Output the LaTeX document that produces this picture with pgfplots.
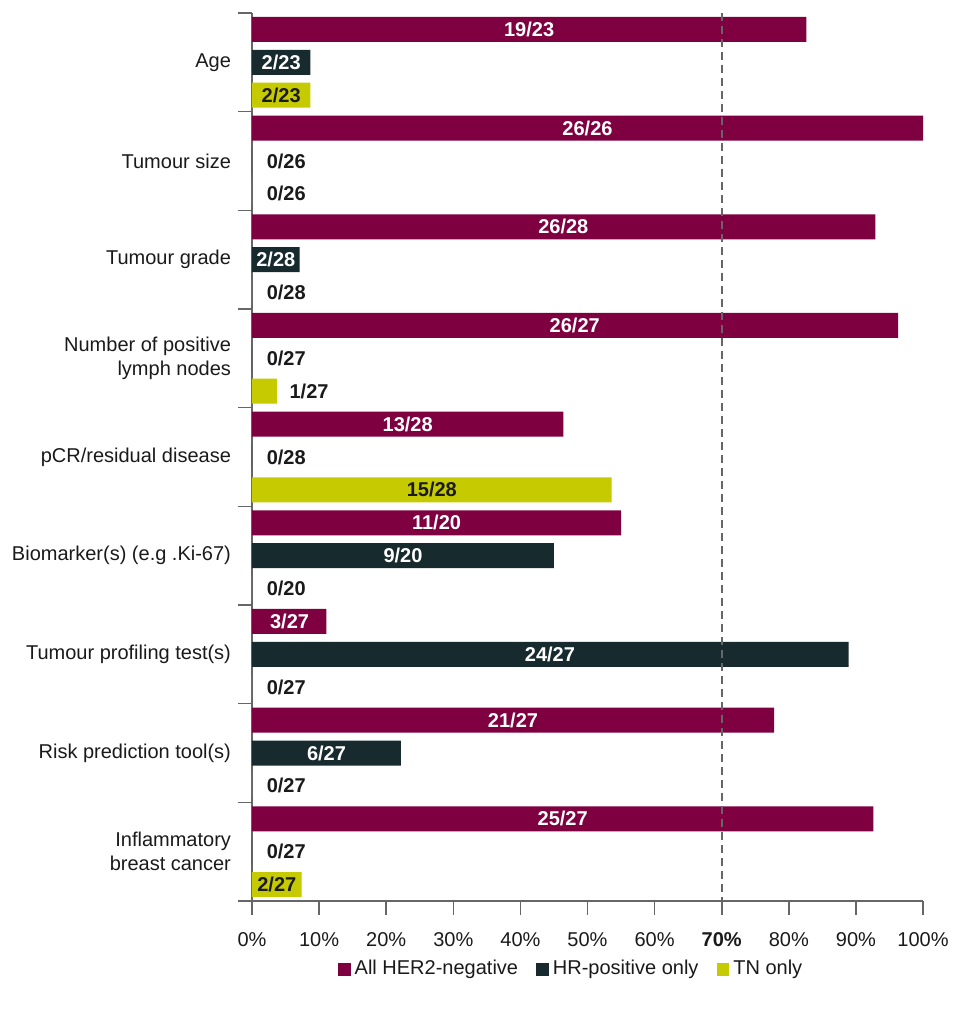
\documentclass[border=0pt]{standalone}
\usepackage{fontspec}
\setmainfont{Liberation Sans}
\usepackage{pgfplots}
\usepackage{pgfplotstable}
\pgfplotsset{compat=1.18}

\definecolor{hermag}{HTML}{7F0040}
\definecolor{hrdark}{HTML}{172A2D}
\definecolor{tnyel}{HTML}{C6CA00}
\definecolor{txtdark}{HTML}{1A1A1A}
\definecolor{axgray}{HTML}{666666}

% y = bar position (rows of 3 per category, top to bottom)
\pgfplotstableread{
y    v
0.5  82.6
3.5  100
6.5  92.9
9.5  96.3
12.5 46.4
15.5 55.0
18.5 11.1
21.5 77.8
24.5 92.6
}\allher

\pgfplotstableread{
y    v
1.5  8.7
4.5  0
7.5  7.1
10.5 0
13.5 0
16.5 45.0
19.5 88.9
22.5 22.2
25.5 0
}\hrpos

\pgfplotstableread{
y    v
2.5  8.7
5.5  0
8.5  0
11.5 3.7
14.5 53.6
17.5 0
20.5 0
23.5 0
26.5 7.4
}\tnonly

% labels inside the dark bars (white text)
\pgfplotstableread{
y    lx    lab
0.5  41.3  19/23
3.5  50.0  26/26
6.5  46.4  26/28
9.5  48.1  26/27
12.5 23.2  13/28
15.5 27.5  11/20
18.5 5.6   3/27
21.5 38.9  21/27
24.5 46.3  25/27
1.5  4.35  2/23
7.5  3.55  2/28
16.5 22.5  9/20
19.5 44.4  24/27
22.5 11.1  6/27
}\labwhite

% labels in yellow bars or beside empty bars (dark text)
\pgfplotstableread{
y    lx    lab
4.5  5.1   0/26
10.5 5.1   0/27
13.5 5.1   0/28
25.5 5.1   0/27
2.5  4.35  2/23
5.5  5.1   0/26
8.5  5.1   0/28
11.5 8.5   1/27
14.5 26.8  15/28
17.5 5.1   0/20
20.5 5.1   0/27
23.5 5.1   0/27
26.5 3.7   2/27
}\labdark

\begin{document}
\begin{tikzpicture}
\begin{axis}[
    scale only axis,
    width=335.5pt, height=444pt,
    font=\fontsize{10}{12}\selectfont,
    /pgf/number format/assume math mode=true,
    xmin=0, xmax=100, ymin=0, ymax=27,
    y dir=reverse,
    axis lines=left,
    axis line style={-, axgray, line width=0.8pt},
    tick style={axgray, line width=0.8pt},
    tick align=outside,
    major tick length=7pt,
    minor tick length=7pt,
    xtick={0,10,...,100},
    xticklabels={0\%,10\%,20\%,30\%,40\%,50\%,60\%,\textbf{70\%},80\%,90\%,100\%},
    xticklabel style={yshift=-5pt, text=txtdark},
    ytick={1.5,4.5,...,25.5},
    yticklabels={Age,Tumour size,Tumour grade,{Number of positive\\lymph nodes},pCR/residual disease,Biomarker(s) (e.g .Ki-67),Tumour profiling test(s),Risk prediction tool(s),{Inflammatory\\breast cancer}},
    yticklabel style={align=right, xshift=0pt, text=txtdark},
    major y tick style={draw=none},
    minor ytick={0,3,...,27},
    legend columns=-1,
    legend style={at={(0.477,-0.0767)}, anchor=center, draw=none,
        font=\fontsize{10}{12}\selectfont, text=txtdark,
        /tikz/every even column/.append style={column sep=7pt}},
    legend image code/.code={\path[#1, draw=none] (0pt,-3.2pt) rectangle (6.4pt,3.2pt);},
    clip=false,
]
\addplot[xbar, bar shift=0pt, bar width=0.76, fill=hermag, draw=none] table[x=v, y=y] {\allher};
\addplot[xbar, bar shift=0pt, bar width=0.76, fill=hrdark, draw=none] table[x=v, y=y] {\hrpos};
\addplot[xbar, bar shift=0pt, bar width=0.76, fill=tnyel, draw=none] table[x=v, y=y] {\tnonly};
\legend{All HER2-negative, HR-positive only, TN only}

\addplot[draw=none, mark=none, forget plot, point meta=explicit symbolic,
    nodes near coords={\bfseries\textcolor{white}{\pgfplotspointmeta}},
    nodes near coords align=center]
    table[x=lx, y=y, meta=lab] {\labwhite};
\addplot[draw=none, mark=none, forget plot, point meta=explicit symbolic,
    nodes near coords={\bfseries\textcolor{txtdark}{\pgfplotspointmeta}},
    nodes near coords align=center]
    table[x=lx, y=y, meta=lab] {\labdark};

\draw[axgray, dash pattern=on 4pt off 2.5pt, line width=0.8pt] (axis cs:70,0) -- (axis cs:70,27);
\coordinate (sw) at (rel axis cs:0,0);
\coordinate (ne) at (rel axis cs:1,1);
\end{axis}
\path ([shift={(-126pt,-54pt)}]sw) rectangle ([shift={(14.5pt,6.5pt)}]ne);
\end{tikzpicture}
\end{document}
